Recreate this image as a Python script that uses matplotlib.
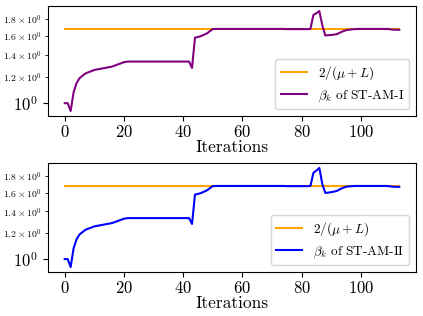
import matplotlib
matplotlib.use("Agg")
import matplotlib.pyplot as plt
from matplotlib.ticker import FixedLocator, FixedFormatter

plt.rcParams['font.family'] = 'serif'
plt.rcParams['font.serif'] = ['cmr10', 'DejaVu Serif']
plt.rcParams['mathtext.fontset'] = 'cm'
plt.rcParams['axes.formatter.use_mathtext'] = True

iters = list(range(114))
ref_value = 1.68

beta_I = [1.0, 1.0, 0.947, 1.08, 1.15, 1.19, 1.21, 1.23, 1.24, 1.25,
          1.26, 1.265, 1.27, 1.275, 1.28, 1.285, 1.29, 1.30, 1.31, 1.32,
          1.33, 1.335, 1.336, 1.336, 1.336, 1.336, 1.336, 1.336, 1.336, 1.336,
          1.336, 1.336, 1.336, 1.336, 1.336, 1.336, 1.336, 1.336, 1.336, 1.336,
          1.336, 1.336, 1.336, 1.278, 1.578, 1.585, 1.595, 1.61, 1.625, 1.65,
          1.675, 1.677, 1.677, 1.677, 1.677, 1.677, 1.677, 1.677, 1.677, 1.677,
          1.677, 1.677, 1.677, 1.677, 1.677, 1.677, 1.677, 1.677, 1.677, 1.677,
          1.677, 1.677, 1.677, 1.677, 1.677, 1.675, 1.675, 1.675, 1.675, 1.675,
          1.675, 1.675, 1.675, 1.678, 1.85, 1.87, 1.90, 1.72, 1.603, 1.605,
          1.608, 1.612, 1.618, 1.635, 1.65, 1.662, 1.668, 1.672, 1.675, 1.677,
          1.677, 1.677, 1.677, 1.677, 1.677, 1.677, 1.677, 1.677, 1.677, 1.677,
          1.672, 1.668, 1.667, 1.667]

beta_II = [1.0, 1.0, 0.945, 1.08, 1.15, 1.19, 1.21, 1.23, 1.24, 1.25,
           1.26, 1.265, 1.27, 1.275, 1.28, 1.285, 1.29, 1.30, 1.31, 1.32,
           1.33, 1.335, 1.336, 1.336, 1.336, 1.336, 1.336, 1.336, 1.336, 1.336,
           1.336, 1.336, 1.336, 1.336, 1.336, 1.336, 1.336, 1.336, 1.336, 1.336,
           1.336, 1.336, 1.336, 1.282, 1.578, 1.585, 1.595, 1.61, 1.625, 1.65,
           1.675, 1.677, 1.677, 1.677, 1.677, 1.677, 1.677, 1.677, 1.677, 1.677,
           1.677, 1.677, 1.677, 1.677, 1.677, 1.677, 1.677, 1.677, 1.677, 1.677,
           1.677, 1.677, 1.677, 1.677, 1.677, 1.675, 1.675, 1.675, 1.675, 1.675,
           1.675, 1.675, 1.675, 1.678, 1.84, 1.87, 1.905, 1.70, 1.597, 1.60,
           1.605, 1.612, 1.62, 1.64, 1.655, 1.668, 1.672, 1.675, 1.677, 1.677,
           1.677, 1.677, 1.677, 1.677, 1.677, 1.677, 1.677, 1.677, 1.677, 1.677,
           1.672, 1.668, 1.667, 1.667]

minor_ticks = [1.2, 1.4, 1.6, 1.8]
minor_labels = [r'$1.2\times10^{0}$', r'$1.4\times10^{0}$', r'$1.6\times10^{0}$', r'$1.8\times10^{0}$']
major_ticks = [1.0]
major_labels = [r'$10^{0}$']
xticks = [0, 20, 40, 60, 80, 100]

W, H = 423, 316
fig = plt.figure(figsize=(W / 100, H / 100), dpi=100)

panels = [
    (beta_I, 'purple', r'$\beta_k$ of ST-AM-I', (48, 6, 416, 116)),
    (beta_II, 'blue', r'$\beta_k$ of ST-AM-II', (48, 163, 416, 272)),
]

for series, color, label, (l, t, r, b) in panels:
    ax = fig.add_axes([l / W, 1 - b / H, (r - l) / W, (b - t) / H])
    ax.plot(iters, [ref_value] * len(iters), color='orange', lw=1.5, label=r'$2/(\mu+L)$')
    ax.plot(iters, series, color=color, lw=1.5, label=label)
    ax.set_yscale('log')
    ax.yaxis.set_major_locator(FixedLocator(major_ticks))
    ax.yaxis.set_major_formatter(FixedFormatter(major_labels))
    ax.yaxis.set_minor_locator(FixedLocator(minor_ticks))
    ax.yaxis.set_minor_formatter(FixedFormatter(minor_labels))
    ax.tick_params(axis='y', which='major', labelsize=12)
    ax.tick_params(axis='y', which='minor', labelsize=7, pad=2.5)
    ax.set_xticks(xticks)
    ax.tick_params(axis='x', labelsize=12, pad=2.5)
    ax.set_xlabel('Iterations', fontsize=12.5, labelpad=-0.5)
    ax.legend(loc='lower right', fontsize=9.5, handlelength=2.0)

fig.savefig('out.png', dpi=100)
